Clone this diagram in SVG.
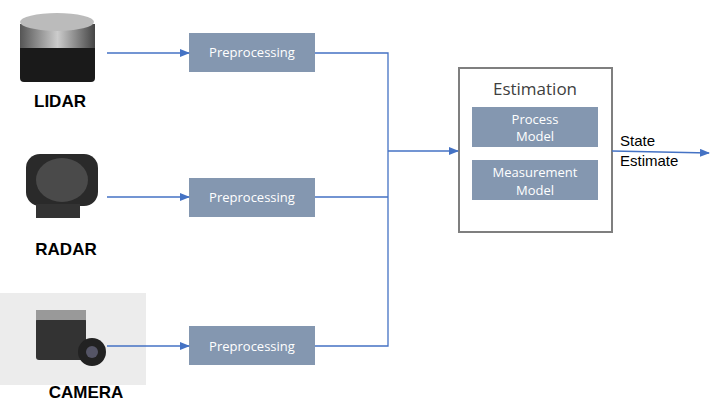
<svg xmlns="http://www.w3.org/2000/svg" width="722" height="414" viewBox="0 0 722 414">
<defs>
<marker id="ah" markerWidth="10" markerHeight="8" refX="9" refY="4" orient="auto" markerUnits="userSpaceOnUse"><path d="M0,0 L10,4 L0,8 z" fill="#4472c4"/></marker>
<linearGradient id="lid" x1="0" x2="1"><stop offset="0" stop-color="#555"/><stop offset="0.5" stop-color="#ccc"/><stop offset="1" stop-color="#444"/></linearGradient>
</defs>
<style>
.pre{fill:#8497b0}
.pt{font-family:"Open Sans","Liberation Sans",sans-serif;font-size:13px;fill:#fff;text-anchor:middle}
.lab{font-family:"Liberation Sans",Arial,sans-serif;font-weight:bold;font-size:17px;fill:#000;text-anchor:middle}
.ln{stroke:#4472c4;stroke-width:1.3;fill:none}
</style>
<rect width="722" height="414" fill="#fff"/>
<g id="lidar">
<rect x="20" y="24" width="75" height="58" fill="#1a1a1a" rx="4"/>
<rect x="20" y="24" width="75" height="24" fill="url(#lid)"/>
<ellipse cx="57" cy="22" rx="37" ry="9" fill="#bbb"/>
<text x="60" y="107" class="lab">LIDAR</text>
</g>
<g id="radar">
<rect x="26" y="154" width="72" height="52" rx="14" fill="#2a2a2a"/>
<ellipse cx="62" cy="180" rx="26" ry="22" fill="#4a4a4a"/>
<rect x="36" y="204" width="44" height="14" fill="#333"/>
<text x="66" y="255" class="lab">RADAR</text>
</g>
<g id="camera">
<rect x="0" y="293" width="146" height="92" fill="#ececec"/>
<rect x="36" y="318" width="50" height="42" fill="#333" rx="3"/>
<rect x="36" y="310" width="50" height="10" fill="#999"/>
<circle cx="92" cy="352" r="14" fill="#222"/>
<circle cx="92" cy="352" r="6" fill="#556"/>
<text x="86" y="398" class="lab">CAMERA</text>
</g>
<g id="pre1"><rect class="pre" x="189" y="33" width="126" height="39"/><text class="pt" x="252" y="57">Preprocessing</text></g>
<g id="pre2"><rect class="pre" x="189" y="178" width="126" height="39"/><text class="pt" x="252" y="202">Preprocessing</text></g>
<g id="pre3"><rect class="pre" x="189" y="326" width="126" height="39"/><text class="pt" x="252" y="351">Preprocessing</text></g>
<g id="estimation">
<rect x="459" y="68" width="153" height="164" fill="#fff" stroke="#7f7f7f" stroke-width="2"/>
<text x="535" y="95" font-family="Open Sans,Liberation Sans,sans-serif" font-size="17" fill="#404040" text-anchor="middle">Estimation</text>
<rect class="pre" x="472" y="107" width="126" height="40"/><text class="pt" x="535" y="124">Process</text><text class="pt" x="535" y="141">Model</text>
<rect class="pre" x="472" y="160" width="126" height="40"/><text class="pt" x="535" y="177">Measurement</text><text class="pt" x="535" y="195">Model</text>
</g>
<g id="connectors">
<path class="ln" d="M107,53 L189,53" marker-end="url(#ah)"/>
<path class="ln" d="M107,197 L189,197" marker-end="url(#ah)"/>
<path class="ln" d="M107,346 L189,346" marker-end="url(#ah)"/>
<path class="ln" d="M315,53 L388,53 L388,346 L315,346 M315,197 L388,197"/>
<path class="ln" d="M388,151 L458,151" marker-end="url(#ah)"/>
<path class="ln" d="M612,151 L709,153" marker-end="url(#ah)"/>
</g>
<text x="620" y="146" font-family="Liberation Sans,Arial,sans-serif" font-size="15">State</text>
<text x="620" y="166" font-family="Liberation Sans,Arial,sans-serif" font-size="15">Estimate</text>
</svg>
